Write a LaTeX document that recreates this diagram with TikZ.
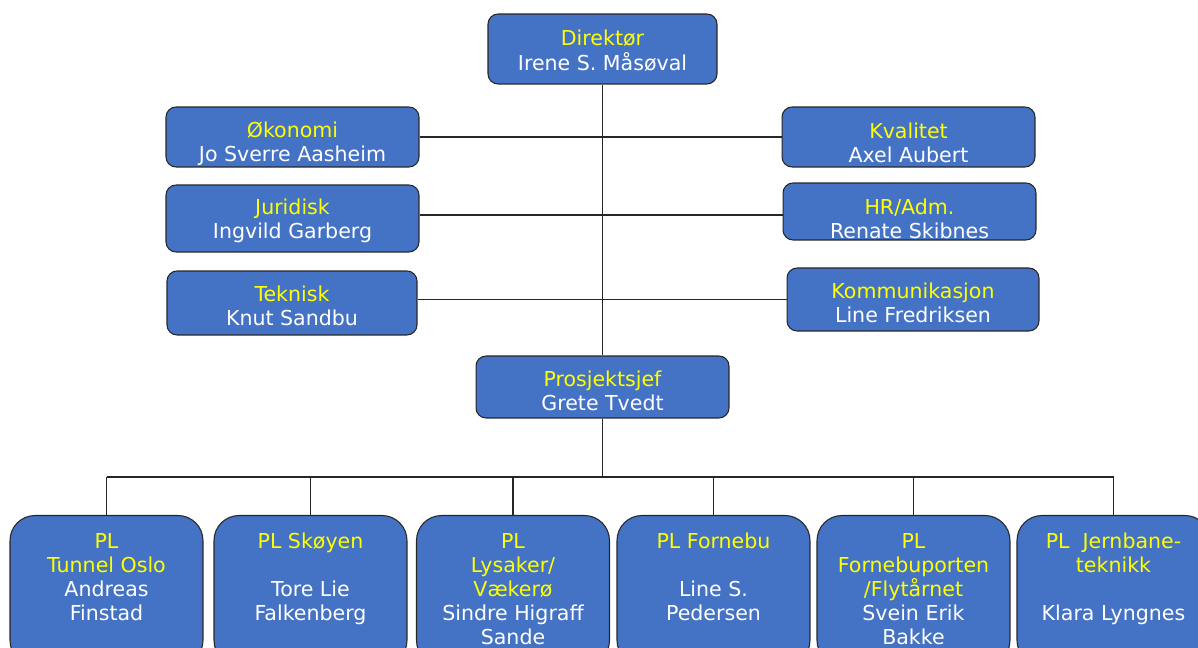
\documentclass[tikz,border=0pt]{standalone}
\usepackage{fontspec}
\setmainfont{DejaVu Sans}
\usetikzlibrary{positioning}
\definecolor{boxblue}{HTML}{4472C4}
\definecolor{titleyellow}{HTML}{FFFF00}
\newcommand{\ttl}[1]{\textcolor{titleyellow}{#1}}
\newcommand{\drop}[1]{\rule{0pt}{#1}}
\newcommand{\plcontent}[1]{\parbox[t][3cm][t]{3.86cm}{\centering\rule{0pt}{0.66cm}#1}}

\begin{document}
\begin{tikzpicture}[x=0.02cm,y=-0.02cm,
  font=\fontsize{11.7}{13.7}\selectfont,
  unitbox/.style={draw=black!85,line width=0.6pt,fill=boxblue,text=white,rounded corners=0.2cm,
    align=center,minimum width=5.06cm,inner sep=0pt},
  plbox/.style={draw=black!85,line width=0.6pt,fill=boxblue,text=white,rounded corners=0.5cm,
    anchor=north,inner sep=0pt},
  conn/.style={draw=black!85,line width=0.7pt}]
  \useasboundingbox (0,0) rectangle (1198,648);
  \clip (0,0) rectangle (1198,648);

  % management
  \node[unitbox,minimum width=4.58cm,minimum height=1.4cm] (dir) at (602.5,49) {\drop{10.8pt}\ttl{Direktør}\\Irene S. Måsøval};
  \node[unitbox,minimum height=1.2cm] (oko) at (292.5,137) {\drop{17pt}\ttl{Økonomi}\\Jo Sverre Aasheim};
  \node[unitbox,minimum height=1.34cm] (jur) at (292.5,218.5) {\drop{11.8pt}\ttl{Juridisk}\\Ingvild Garberg};
  \node[unitbox,minimum height=1.28cm,minimum width=5cm] (tek) at (292,303) {\drop{11.8pt}\ttl{Teknisk}\\Knut Sandbu};
  \node[unitbox,minimum height=1.2cm] (kval) at (908.5,137) {\drop{15.8pt}\ttl{Kvalitet}\\Axel Aubert};
  \node[unitbox,minimum height=1.14cm] (hr) at (909.5,211.5) {\drop{17pt}\ttl{HR/Adm.}\\Renate Skibnes};
  \node[unitbox,minimum height=1.26cm,minimum width=5.04cm] (kom) at (913,299.5) {\drop{13pt}\ttl{Kommunikasjon}\\Line Fredriksen};
  \node[unitbox,minimum height=1.24cm] (ps) at (602.5,387) {\drop{13.6pt}\ttl{Prosjektsjef}\\Grete Tvedt};

  % project leaders
  \node[plbox] (pl1) at (106.5,515) {\plcontent{\ttl{PL}\\\ttl{Tunnel Oslo}\\Andreas\\Finstad}};
  \node[plbox] (pl2) at (310.5,515) {\plcontent{\ttl{PL Skøyen}\\\mbox{}\\Tore Lie\\Falkenberg}};
  \node[plbox] (pl3) at (513,515) {\plcontent{\ttl{PL}\\\ttl{Lysaker/}\\\ttl{Vækerø}\\Sindre Higraff\\Sande}};
  \node[plbox] (pl4) at (713.5,515) {\plcontent{\ttl{PL Fornebu}\\\mbox{}\\Line S.\\Pedersen}};
  \node[plbox] (pl5) at (913.5,515) {\plcontent{\ttl{PL}\\\ttl{Fornebuporten}\\\ttl{/Flytårnet}\\Svein Erik\\Bakke}};
  \node[plbox] (pl6) at (1113.5,515) {\plcontent{\ttl{PL\ \ Jernbane-}\\\ttl{teknikk}\\\mbox{}\\Klara Lyngnes}};

  % lines
  \draw[conn] (dir.south) -- (ps.north);
  \draw[conn] (oko.east) -- (kval.west);
  \draw[conn] ([yshift=0.07cm]jur.east) -- ([yshift=0.07cm]jur.east -| hr.west);
  \draw[conn] (kom.west) -- (kom.west -| tek.east);
  \coordinate (bus) at (602.5,477);
  \draw[conn] (ps.south) -- (bus);
  \draw[conn] (pl1.north |- bus) -- (pl6.north |- bus);
  \foreach \i in {1,...,6}
    \draw[conn] (pl\i.north |- bus) -- (pl\i.north);
\end{tikzpicture}
\end{document}
